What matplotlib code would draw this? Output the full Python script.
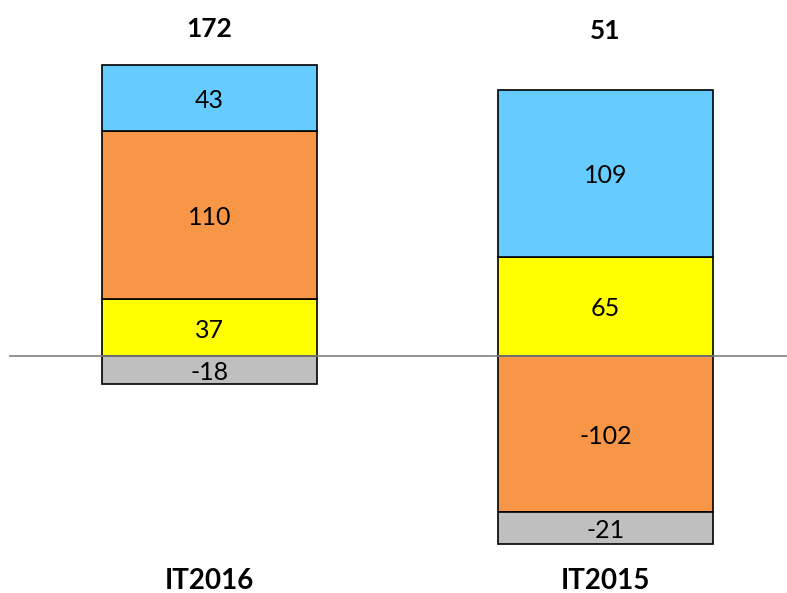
import matplotlib.pyplot as plt

# categorias e componentes
categorias = ['IT2016', 'IT2015']
totais = [172, 51]
azul = [43, 109]
laranja = [110, -102]
amarelo = [37, 65]
cinza = [-18, -21]

plt.rcParams['font.family'] = ['Lato', 'DejaVu Sans']

fig = plt.figure(figsize=(7.87, 5.93), dpi=100)
ax = fig.add_axes([0, 0, 1, 1])
ax.set_xlim(-0.529, 1.458)
ax.set_ylim(-154.9, 232.7)
ax.axis('off')

largura = 0.543
cores = {'azul': '#66CCFF', 'laranja': '#F79646', 'amarelo': '#FFFF00', 'cinza': '#BFBFBF'}

# empilhar positivos para cima e negativos para baixo, na ordem de baixo para cima
ordem = [('amarelo', amarelo), ('laranja', laranja), ('azul', azul), ('cinza', cinza)]
for i in range(len(categorias)):
    topo = 0
    fundo = 0
    for nome, serie in ordem:
        v = serie[i]
        if v >= 0:
            base = topo
            topo += v
        else:
            base = fundo
            fundo += v
        ax.bar(i, v, width=largura, bottom=base, color=cores[nome],
               edgecolor='black', linewidth=1.2, zorder=2)
        ax.text(i, base + v / 2 - 1.5, str(v), ha='center', va='center', fontsize=18, zorder=3)
    ax.text(i, 214 - 1.5 * i, str(totais[i]), ha='center', va='center', fontsize=19, fontweight='bold')
    ax.text(i, -147, categorias[i], ha='center', va='center', fontsize=20, fontweight='bold')

ax.axhline(0, xmin=10 / 787, xmax=1, color='#808080', linewidth=1.2, zorder=4)

fig.savefig('out.png', dpi=100)
